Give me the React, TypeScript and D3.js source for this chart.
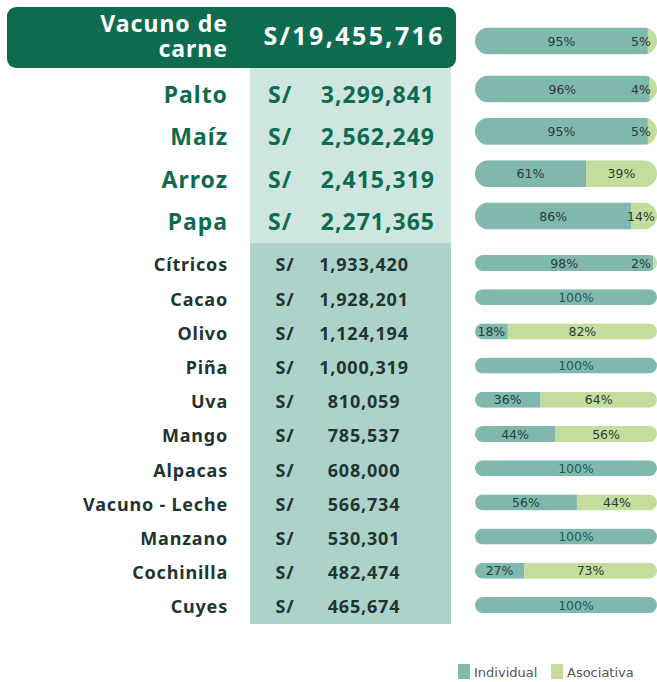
import React from "react";
import * as d3 from "d3";

const crops = ["Vacuno de carne", "Palto", "Maíz", "Arroz", "Papa", "Cítricos", "Cacao", "Olivo", "Piña", "Uva", "Mango", "Alpacas", "Vacuno - Leche", "Manzano", "Cochinilla", "Cuyes"];
const amounts = [19455716, 3299841, 2562249, 2415319, 2271365, 1933420, 1928201, 1124194, 1000319, 810059, 785537, 608000, 566734, 530301, 482474, 465674];
const individualPct = [95, 96, 95, 61, 86, 98, 100, 18, 100, 36, 44, 100, 56, 100, 27, 100];
const asociativaPct = [5, 4, 5, 39, 14, 2, 0, 82, 0, 64, 56, 0, 44, 0, 73, 0];
const legendLabels = ["Individual", "Asociativa"];

const W = 657, H = 682;
const C_DARK = "#0d6b50";
const C_IND = "#80b8ae";
const C_ASO = "#c3dd9c";
const C_TEXT = "#1f3532";
const FONT = "'Noto Sans', 'Open Sans', sans-serif";
const BAR_FONT = "'DejaVu Sans', sans-serif";

export default function App() {
  const fmt = d3.format(",");
  const x = d3.scaleLinear().domain([0, 100]).range([475, 657]);
  const topNames = crops.slice(1, 5);
  const lowNames = crops.slice(5);
  const yTop = d3.scalePoint().domain(topNames).range([95, 222]);
  const yLow = d3.scalePoint().domain(lowNames).range([265, 607]);

  const rowY = (i: number) => (i === 0 ? 41 : i < 5 ? yTop(crops[i])! : yLow(crops[i])!);
  const barY = (i: number) => (i === 0 ? 41 : i < 5 ? rowY(i) - 6 : rowY(i) - 2);
  const barH = (i: number) => (i < 5 ? 27 : 16);
  const headerWords = crops[0].split(" ");
  const headerLines = [headerWords.slice(0, 2).join(" "), headerWords.slice(2).join(" ")];

  return (
    <svg width={W} height={H} style={{ position: "absolute", left: 0, top: 0, background: "#fff" }}>
      {/* light column bands */}
      <rect x={250} y={60} width={201} height={183} fill="#cfe5df" />
      <rect x={250} y={243} width={201} height={381} fill="#add2ca" />
      {/* header */}
      <rect x={7} y={7} width={449} height={61} rx={9} fill={C_DARK} />
      <text textAnchor="end" fill="#fff" fontFamily={FONT} fontWeight={700} fontSize={23} letterSpacing={1}>
        <tspan x={228} y={32}>{headerLines[0]}</tspan>
        <tspan x={228} y={57}>{headerLines[1]}</tspan>
      </text>
      <text x={445} y={45} textAnchor="end" fill="#fff" fontFamily={FONT} fontWeight={700} fontSize={25} letterSpacing={2.4}>{"S/" + fmt(amounts[0])}</text>

      {crops.map((c, i) => {
        if (i === 0) return null;
        const y = rowY(i);
        const big = i < 5;
        const fs = big ? 23 : 18;
        const col = big ? C_DARK : C_TEXT;
        return (
          <g key={c} fontFamily={FONT} fontWeight={700} fill={col} fontSize={fs} letterSpacing={big ? 1 : 0.8}>
            <text x={228} y={y} dy="0.35em" textAnchor="end">{c}</text>
            {big ? (
              <>
                <text x={268} y={y} dy="0.35em">S/</text>
                <text x={435} y={y} dy="0.35em" textAnchor="end">{fmt(amounts[i])}</text>
              </>
            ) : (
              <>
                <text x={285} y={y} dy="0.35em" textAnchor="middle">S/</text>
                <text x={364} y={y} dy="0.35em" textAnchor="middle">{fmt(amounts[i])}</text>
              </>
            )}
          </g>
        );
      })}

      {crops.map((c, i) => {
        const cy = barY(i);
        const h = barH(i);
        const x0 = x(0), x1 = x(individualPct[i]), x2 = x(100);
        const clipId = "clip" + i;
        const full = individualPct[i] === 100;
        const indC = full ? (x0 + x2) / 2 + 10 : (x0 + x1) / 2;
        const asoC = Math.min((x1 + x2) / 2, x2 - 16);
        return (
          <g key={"b" + c}>
            <clipPath id={clipId}>
              <rect x={x0} y={cy - h / 2} width={x2 - x0} height={h} rx={h / 2} />
            </clipPath>
            <g clipPath={`url(#${clipId})`}>
              <rect x={x0} y={cy - h / 2} width={x1 - x0} height={h} fill={C_IND} />
              <rect x={x1} y={cy - h / 2} width={x2 - x1} height={h} fill={C_ASO} />
            </g>
            <text x={indC} y={cy} dy="0.36em" textAnchor="middle" fontFamily={BAR_FONT} fontSize={12.5}
              fill={full ? "#1d5a50" : "#2a3a37"}>{individualPct[i] + "%"}</text>
            {asociativaPct[i] > 0 && (
              <text x={asoC} y={cy} dy="0.36em" textAnchor="middle" fontFamily={BAR_FONT} fontSize={12.5} fill="#2a3a37">
                {asociativaPct[i] + "%"}
              </text>
            )}
          </g>
        );
      })}

      {/* legend */}
      {legendLabels.map((l, k) => {
        const lx = k === 0 ? 458 : 551;
        return (
          <g key={l}>
            <rect x={lx} y={664} width={12} height={15} fill={k === 0 ? C_IND : C_ASO} />
            <text x={lx + 16} y={677} fontFamily={BAR_FONT} fontSize={13} fill="#555">{l}</text>
          </g>
        );
      })}
    </svg>
  );
}
